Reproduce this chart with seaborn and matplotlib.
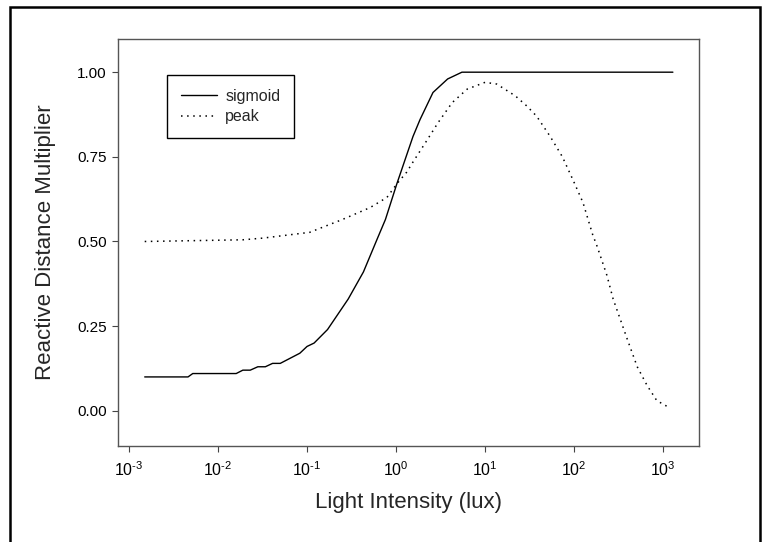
import numpy as np
import pandas as pd
import matplotlib
matplotlib.use("Agg")
import matplotlib.pyplot as plt
import seaborn as sns
from matplotlib.patches import Rectangle
from matplotlib.ticker import FixedLocator, NullLocator, FuncFormatter

# ---- data ----
sigmoid_lux = [0.0015, 0.0046, 0.0052, 0.016, 0.019, 0.023, 0.028, 0.034, 0.041, 0.050,
               0.083, 0.10, 0.12, 0.17, 0.29, 0.43, 0.62, 0.76, 1.02, 1.55, 1.86, 2.6,
               3.8, 5.5, 1290]
sigmoid_val = [0.10, 0.10, 0.11, 0.11, 0.12, 0.12, 0.13, 0.13, 0.14, 0.14,
               0.17, 0.19, 0.20, 0.24, 0.33, 0.41, 0.51, 0.565, 0.67, 0.81, 0.86, 0.94,
               0.98, 1.00, 1.00]

peak_lux = [0.0015, 0.019, 0.032, 0.107, 0.25, 0.51, 0.79, 1.02, 1.32, 1.51, 2.24, 2.95,
            4.27, 6.3, 10.0, 13.5, 21.9, 29.5, 38, 54, 74, 98, 126, 162, 182, 234, 275,
            331, 398, 513, 661, 851, 1200]
peak_val = [0.50, 0.505, 0.51, 0.527, 0.565, 0.60, 0.63, 0.67, 0.705, 0.73, 0.80, 0.85,
            0.91, 0.95, 0.97, 0.965, 0.93, 0.90, 0.87, 0.81, 0.75, 0.68, 0.615, 0.52, 0.485,
            0.40, 0.33, 0.27, 0.21, 0.13, 0.075, 0.03, 0.008]

x_ticks = [1e-3, 1e-2, 1e-1, 1e0, 1e1, 1e2, 1e3]
y_ticks = [0.00, 0.25, 0.50, 0.75, 1.00]

sns.set_style("ticks")
plt.rcParams['font.family'] = ['Liberation Sans', 'DejaVu Sans']
plt.rcParams['mathtext.fontset'] = 'custom'
plt.rcParams['mathtext.rm'] = 'Liberation Sans'
plt.rcParams['mathtext.it'] = 'Liberation Sans'
plt.rcParams['mathtext.default'] = 'regular'
plt.rcParams['axes.unicode_minus'] = False


def pow_label(v, p):
    e = int(round(np.log10(v)))
    s = str(abs(e))
    if e < 0:
        return r"$10^{\text{-}%s}$" % s
    return r"$10^{%s}$" % s


fig = plt.figure(figsize=(7.62, 5.42), dpi=100)
ax = fig.add_axes([118/762, 1 - 446/542, (699 - 118)/762, (446 - 39)/542])

df_s = pd.DataFrame({"lux": sigmoid_lux, "value": sigmoid_val})
df_p = pd.DataFrame({"lux": peak_lux, "value": peak_val})

sns.lineplot(data=df_s, x="lux", y="value", ax=ax, color="black", lw=1.0,
             label="sigmoid", estimator=None, sort=False)
sns.lineplot(data=df_p, x="lux", y="value", ax=ax, color="black", lw=1.1,
             linestyle=(0, (1, 3.0)), label="peak", estimator=None, sort=False)

ax.set_xscale("log")
ax.set_xlim(10**-3.124, 10**3.404)
ax.set_ylim(-0.104, 1.098)
ax.xaxis.set_major_locator(FixedLocator(x_ticks))
ax.xaxis.set_minor_locator(NullLocator())
ax.xaxis.set_major_formatter(FuncFormatter(pow_label))
ax.yaxis.set_major_locator(FixedLocator(y_ticks))
ax.yaxis.set_major_formatter(FuncFormatter(lambda v, p: "%.2f" % v))
ax.tick_params(axis="both", direction="out", length=4, width=0.8, color="#444444",
               labelsize=11, labelcolor="black", pad=4)
ax.tick_params(axis="x", labelsize=11.5, pad=6)

for s in ax.spines.values():
    s.set_visible(True)
    s.set_color("#555555")
    s.set_linewidth(1.0)

ax.set_xlabel("Light Intensity (lux)", fontsize=16, labelpad=10)
ax.set_ylabel("Reactive Distance Multiplier", fontsize=16, labelpad=15)

leg = ax.legend(loc="upper left", bbox_to_anchor=((167 - 118)/581, 1 - (75 - 39)/407),
                frameon=True, fancybox=False, shadow=False, fontsize=11.5,
                handlelength=2.3, borderpad=0.85, labelspacing=0.35, handletextpad=0.5,
                borderaxespad=0)
leg.get_frame().set_edgecolor("black")
leg.get_frame().set_linewidth(1.0)
leg.get_frame().set_alpha(1)

fig.patches.append(Rectangle((10/762, -0.02), 750/762, 1.02 - 7/542, transform=fig.transFigure,
                             fill=False, edgecolor="black", linewidth=1.8))

fig.savefig("out.png", dpi=100)
